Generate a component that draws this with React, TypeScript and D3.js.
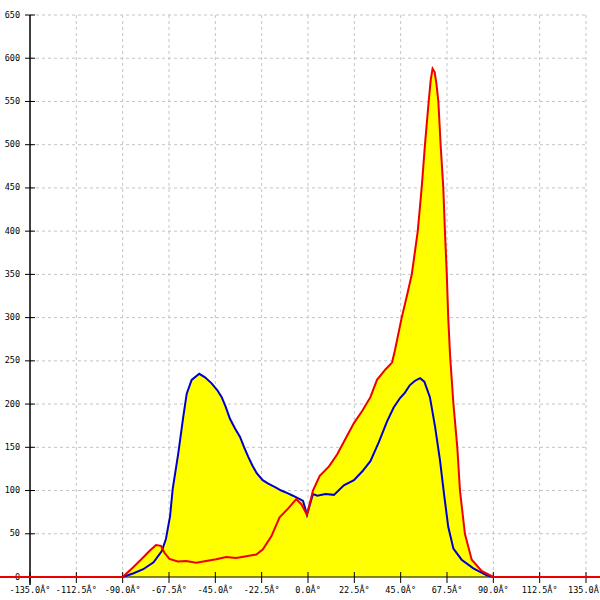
import React from "react";
import * as d3 from "d3";

const xTicks = [-135, -112.5, -90, -67.5, -45, -22.5, 0, 22.5, 45, 67.5, 90, 112.5, 135];
const xTickLabels = ["-135.0Â°", "-112.5Â°", "-90.0Â°", "-67.5Â°", "-45.0Â°", "-22.5Â°", "0.0Â°", "22.5Â°", "45.0Â°", "67.5Â°", "90.0Â°", "112.5Â°", "135.0Â°"];
const yTicks = [0, 50, 100, 150, 200, 250, 300, 350, 400, 450, 500, 550, 600, 650];

const blueAngles = [-90, -85, -80, -75, -71, -69, -67, -65.7, -63, -60.6, -58.9, -56.5, -52.8, -50, -46.8, -44, -41.9, -40, -37.9, -35.5, -33, -31, -29, -27, -24.9, -22, -19.3, -16, -13, -10, -7.3, -4, -2.4, -0.5, 2.4, 4.5, 8.5, 12.6, 17.4, 22.3, 26.3, 30.3, 34.4, 38.4, 41.6, 44.7, 47, 49.5, 52, 54.4, 56.5, 59.2, 61.7, 64.1, 66, 68.1, 70.6, 74.6, 80.3, 86.8, 90];
const blueValues = [0, 4, 9, 17, 30, 44, 70, 102, 143, 185, 212, 228, 235, 231, 224, 216, 208, 197, 183, 172, 162, 150, 139, 129, 120, 112, 108, 104, 100, 97, 94, 90, 88, 72, 96, 94, 96, 95, 106, 112, 122, 134, 156, 180, 196, 207, 213, 222, 227, 230, 226, 208, 174, 135, 97, 58, 33, 20, 10, 2, 0];

const redAngles = [-150, -90, -85, -80.3, -77, -73.8, -71.4, -69.7, -67.3, -63.2, -59.2, -54.3, -49.5, -44.6, -39.7, -34.9, -30, -25.1, -21.9, -17.8, -13.8, -9.7, -5.7, -3.2, -0.5, 2.4, 5.7, 10.2, 14.2, 18.2, 22.3, 26.3, 30.3, 33.5, 37.6, 40.8, 42.2, 45.5, 48, 50.4, 53.3, 55.2, 56.8, 58.6, 59.6, 60.5, 61.5, 62.4, 63.3, 64.4, 65.7, 66.5, 67.4, 68.1, 69, 70.6, 72.5, 73.8, 76.2, 79.5, 84.3, 90, 150];
const redValues = [0, 0, 11, 22, 30, 37, 36, 28, 21, 18, 18.5, 16.6, 18.5, 20.5, 23, 22, 24, 26, 32, 47, 69, 79, 90, 84, 72, 100, 117, 128, 142, 160, 178, 192, 208, 228, 240, 248, 262, 300, 325, 350, 400, 450, 500, 550, 575, 588, 584, 570, 550, 500, 450, 400, 350, 300, 256, 201, 150, 100, 50, 20, 7, 0, 0];

export default function App() {
  const W = 600, H = 600;
  const x = d3.scaleLinear().domain([-135, 135]).range([30, 586]);
  const y = d3.scaleLinear().domain([0, 650]).range([577, 15]);

  const blue: [number, number][] = blueAngles.map((a, i) => [a, blueValues[i]]);
  const red: [number, number][] = redAngles.map((a, i) => [a, redValues[i]]);

  const line = d3.line<[number, number]>().x(d => x(d[0])).y(d => y(d[1]));
  const area = d3.area<[number, number]>().x(d => x(d[0])).y0(y(0)).y1(d => y(d[1]));

  const font = "'DejaVu Sans Mono', monospace";

  return (
    <svg width={W} height={H} style={{ position: "absolute", left: 0, top: 0, background: "#fff" }}>
      <rect x={0} y={0} width={W} height={H} fill="#fff" />
      {xTicks.slice(1).map((t, i) => (
        <line key={"gx" + i} x1={x(t)} x2={x(t)} y1={y(650)} y2={y(0)} stroke="#c4c4c4" strokeDasharray="3,3" />
      ))}
      {yTicks.slice(1).map((t, i) => (
        <line key={"gy" + i} x1={x(-135)} x2={x(135)} y1={y(t)} y2={y(t)} stroke="#c4c4c4" strokeDasharray="3,3" />
      ))}
      <path d={area(blue) || ""} fill="#ffff00" />
      <path d={area(red) || ""} fill="#ffff00" />
      <line x1={x(-135)} x2={x(-135)} y1={y(650)} y2={585} stroke="#000" strokeWidth={1.5} />
      <line x1={x(-135)} x2={x(135)} y1={y(0)} y2={y(0)} stroke="#000" strokeWidth={1} />
      {yTicks.map((t, i) => (
        <g key={"yt" + i}>
          <line x1={25} x2={35} y1={y(t)} y2={y(t)} stroke="#000" />
          <text x={20} y={y(t)} textAnchor="end" dominantBaseline="middle" fontFamily={font} fontSize={8.5} fill="#000">{t}</text>
        </g>
      ))}
      {xTicks.map((t, i) => (
        <g key={"xt" + i}>
          <line x1={x(t)} x2={x(t)} y1={572} y2={583} stroke="#000" />
          <text x={x(t)} y={593} textAnchor="middle" fontFamily={font} fontSize={8.5} fill="#000">{xTickLabels[i]}</text>
        </g>
      ))}
      <path d={line(blue) || ""} fill="none" stroke="#0000cc" strokeWidth={2} />
      <path d={line(red) || ""} fill="none" stroke="#ee0000" strokeWidth={2} />
    </svg>
  );
}
